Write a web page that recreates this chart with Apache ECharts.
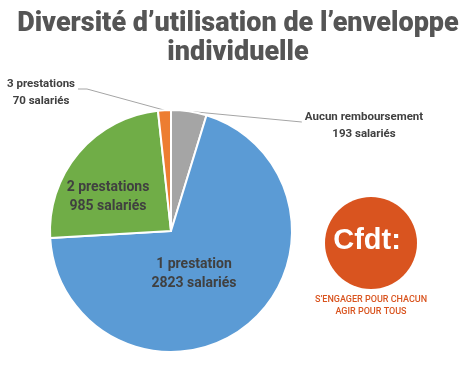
<!DOCTYPE html>
<html><head><meta charset="utf-8">
<script src="https://cdn.jsdelivr.net/npm/echarts@6/dist/echarts.min.js"></script>
<style>html,body{margin:0;padding:0;background:#fff}#c{width:467px;height:366px}</style>
</head><body><div id="c"></div>
<script>
const categories = ['Aucun remboursement', '1 prestation', '2 prestations', '3 prestations'];
const values = [193, 2823, 985, 70];
const colors = ['#A5A5A5', '#5B9BD5', '#70AD47', '#ED7D31'];
const labelPos = [[364, 126], [194, 274], [108, 197], [41, 93]];
const outside = [true, false, false, true];

const chart = echarts.init(document.getElementById('c'), null, {renderer: 'canvas'});
const labelFont = 'Roboto, sans-serif';
const cx = 171, cy = 231, R = 121;

chart.setOption({
  animation: false,
  title: {
    text: 'Diversité d’utilisation de l’enveloppe\nindividuelle',
    left: 233, top: 5, textAlign: 'center',
    textStyle: {fontFamily: 'Roboto, sans-serif', fontWeight: 900, fontSize: 27, color: '#555555', lineHeight: 29}
  },
  series: [{
    type: 'pie',
    center: [cx, cy],
    radius: R,
    startAngle: 90,
    clockwise: true,
    avoidLabelOverlap: false,
    itemStyle: {borderColor: '#fff', borderWidth: 2},
    data: categories.map((c, i) => ({
      name: c, value: values[i],
      itemStyle: {color: colors[i]},
      label: {
        show: true,
        position: outside[i] ? 'outside' : 'inside',
        formatter: '{b}\n{c} salariés',
        fontFamily: labelFont, fontWeight: 'bold',
        fontSize: outside[i] ? 11.5 : 14,
        lineHeight: outside[i] ? 17 : 19,
        color: '#404040', align: 'center'
      },
      labelLine: {show: outside[i], lineStyle: {color: '#A5A5A5', width: 1}}
    })),
    labelLayout: function (p) {
      const i = p.dataIndex;
      const pos = labelPos[i];
      const res = {x: pos[0], y: pos[1], align: 'center', verticalAlign: 'middle'};
      if (outside[i] && p.labelLinePoints) {
        const p0 = p.labelLinePoints[0];
        const w = p.labelRect.width;
        const end = i === 0 ? [pos[0] - w / 2 - 3, pos[1] - 4] : [pos[0] + w / 2 + 3, pos[1] - 4];
        const mid = i === 0 ? end : [end[0] + 9, end[1]];
        res.labelLinePoints = [p0, mid, end];
      }
      return res;
    }
  }],
  graphic: [
    {type: 'circle', shape: {cx: 371, cy: 243, r: 46}, style: {fill: '#D9541F'}},
    {type: 'text', x: 367, y: 241, style: {text: 'Cfdt:', fill: '#fff', font: 'bold 29px "Liberation Sans", Arial, sans-serif', align: 'center', verticalAlign: 'middle'}},
    {type: 'text', x: 371, y: 300, style: {text: 'S’ENGAGER POUR CHACUN', fill: '#D9541F', font: '500 9px ' + labelFont, align: 'center', verticalAlign: 'middle'}},
    {type: 'text', x: 371, y: 312, style: {text: 'AGIR POUR TOUS', fill: '#D9541F', font: '500 9px ' + labelFont, align: 'center', verticalAlign: 'middle'}}
  ]
});
</script></body></html>
